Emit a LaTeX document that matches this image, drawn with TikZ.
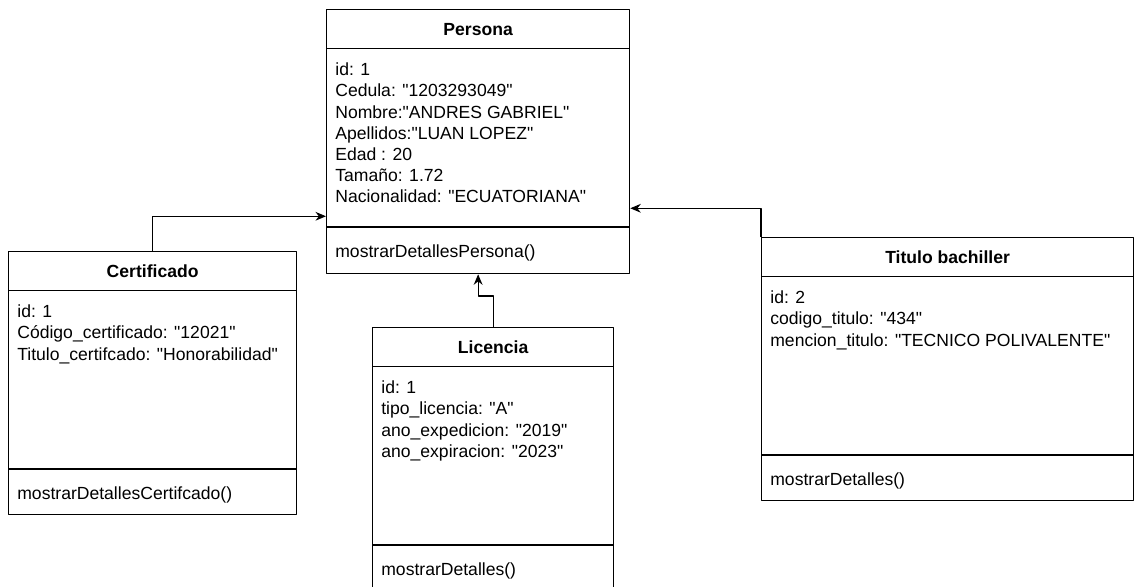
\documentclass[tikz,border=0pt]{standalone}
\usepackage{fontspec}
\setmainfont{Liberation Sans}[Ligatures=TeXOff]
\usetikzlibrary{arrows.meta}

\begin{document}
\begin{tikzpicture}[x=0.02cm,y=-0.02cm,line join=round,>={Stealth[length=6pt,width=5pt]},
  font=\fontsize{10}{12}\selectfont,
  clase/.style={draw,line width=0.75pt,anchor=north west,inner sep=0pt,minimum height=5.26cm},
  cabecera/.style={anchor=base,inner sep=0pt,font=\fontsize{10}{12}\selectfont\bfseries},
  attr/.style={anchor=north west,inner sep=0pt,align=left},
  metodo/.style={anchor=base west,inner sep=0pt},
  enlace/.style={->,line width=0.6pt}]
\clip (0,0) rectangle (1135,587);

% cajas de las clases
\node[clase,minimum width=6.06cm,minimum height=5.28cm] (persona) at (326,9) {};
\node[clase,minimum width=5.76cm] (certificado) at (8,251) {};
\node[clase,minimum width=4.82cm] (licencia) at (372,327) {};
\node[clase,minimum width=7.44cm] (bachiller) at (761,237) {};

\foreach \c in {persona,certificado,licencia,bachiller}{
  \draw[line width=0.75pt] ([yshift=-0.79cm]\c.north west) -- ([yshift=-0.79cm]\c.north east);
  \draw[line width=0.75pt] ([yshift=-4.36cm]\c.north west) -- ([yshift=-4.36cm]\c.north east);
}

% Persona
\node[cabecera] (persona-t) at ([yshift=-0.54cm]persona.north) {Persona};
\node[attr] (persona-a) at ([xshift=0.18cm,yshift=-1.076cm]persona.north west)
  {id: 1\\Cedula: "1203293049"\\Nombre:"ANDRES GABRIEL"\\Apellidos:"LUAN LOPEZ"\\Edad : 20\\Tamaño: 1.72\\Nacionalidad: "ECUATORIANA"};
\node[metodo] (persona-m) at ([xshift=0.18cm,yshift=-4.98cm]persona.north west) {mostrarDetallesPersona()};

% Certificado
\node[cabecera] (certificado-t) at ([yshift=-0.54cm]certificado.north) {Certificado};
\node[attr] (certificado-a) at ([xshift=0.18cm,yshift=-1.076cm]certificado.north west)
  {id: 1\\Código\_certificado: "12021"\\Titulo\_certifcado: "Honorabilidad"};
\node[metodo] (certificado-m) at ([xshift=0.18cm,yshift=-4.98cm]certificado.north west) {mostrarDetallesCertifcado()};

% Licencia
\node[cabecera] (licencia-t) at ([yshift=-0.54cm]licencia.north) {Licencia};
\node[attr] (licencia-a) at ([xshift=0.18cm,yshift=-1.076cm]licencia.north west)
  {id: 1\\tipo\_licencia: "A"\\ano\_expedicion: "2019"\\ano\_expiracion: "2023"};
\node[metodo] (licencia-m) at ([xshift=0.18cm,yshift=-4.98cm]licencia.north west) {mostrarDetalles()};

% Titulo bachiller
\node[cabecera] (bachiller-t) at ([yshift=-0.54cm]bachiller.north) {Titulo bachiller};
\node[attr] (bachiller-a) at ([xshift=0.18cm,yshift=-1.076cm]bachiller.north west)
  {id: 2\\codigo\_titulo: "434"\\mencion\_titulo: "TECNICO POLIVALENTE"};
\node[metodo] (bachiller-m) at ([xshift=0.18cm,yshift=-4.98cm]bachiller.north west) {mostrarDetalles()};

% relaciones
\draw[enlace] (certificado.north) |- ([yshift=1.16cm]persona.south west);
\draw[enlace] (licencia.north) -- ++(0,-31) -| (persona.south);
\draw[enlace] (bachiller.north west) |- ([yshift=1.32cm]persona.south east);
\end{tikzpicture}
\end{document}
